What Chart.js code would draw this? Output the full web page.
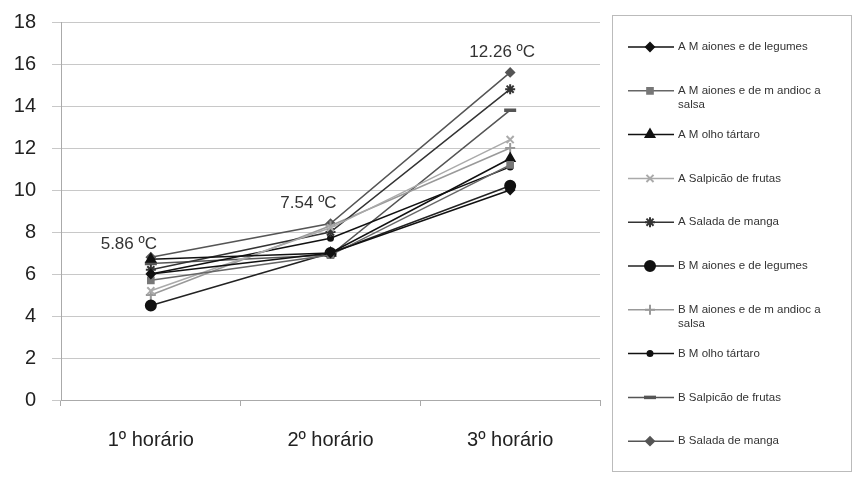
<!DOCTYPE html>
<html>
<head>
<meta charset="utf-8">
<script src="https://cdn.jsdelivr.net/npm/chart.js@4.4.0/dist/chart.umd.min.js"></script>
<style>
  html, body { margin: 0; padding: 0; background: #fff; }
  #wrap { width: 854px; height: 477px; position: relative; }
</style>
</head>
<body>
<div id="wrap"><canvas id="chart"></canvas></div>
<script>
// categories and values
const categories = ['1º horário', '2º horário', '3º horário'];

const seriesNames = [
    'A M aiones e de legumes',
    ['A M aiones e de m andioc a', 'salsa'],
    'A M olho tártaro',
    'A Salpicão de frutas',
    'A Salada de manga',
    'B M aiones e de legumes',
    ['B M aiones e de m andioc a', 'salsa'],
    'B M olho tártaro',
    'B Salpicão de frutas',
    'B Salada de manga'
];

const aMaioneseLegumes = [6.0, 7.0, 10.0];
const aMaioneseMandioca = [5.7, 6.9, 11.2];
const aMolhoTartaro = [6.7, 7.0, 11.5];
const aSalpicao = [5.2, 8.2, 12.4];
const aSaladaManga = [6.2, 8.0, 14.8];
const bMaioneseLegumes = [4.5, 7.0, 10.2];
const bMaioneseMandioca = [5.0, 8.3, 12.0];
const bMolhoTartaro = [6.0, 7.7, 11.1];
const bSalpicao = [6.5, 6.9, 13.8];
const bSaladaManga = [6.8, 8.4, 15.6];

const meanLabels = ['5.86 ºC', '7.54 ºC', '12.26 ºC'];
const yTicks = [0, 2, 4, 6, 8, 10, 12, 14, 16, 18];

const allValues = [aMaioneseLegumes, aMaioneseMandioca, aMolhoTartaro, aSalpicao, aSaladaManga,
    bMaioneseLegumes, bMaioneseMandioca, bMolhoTartaro, bSalpicao, bSaladaManga];

// styles for each series (grayscale like the original)
const styles = [
    { color: '#111', point: 'rectRot', radius: 4, fill: '#111' },
    { color: '#666', point: 'rect', radius: 4, fill: '#777' },
    { color: '#111', point: 'triangle', radius: 5, fill: '#111' },
    { color: '#aaa', point: 'crossRot', radius: 5, fill: '#aaa' },
    { color: '#333', point: 'star', radius: 5, fill: '#333' },
    { color: '#222', point: 'circle', radius: 5, fill: '#111' },
    { color: '#999', point: 'cross', radius: 5, fill: '#999' },
    { color: '#111', point: 'circle', radius: 2.5, fill: '#111' },
    { color: '#555', point: 'line', radius: 6, fill: '#555' },
    { color: '#555', point: 'rectRot', radius: 4, fill: '#555' }
];

const datasets = allValues.map((vals, i) => ({
    label: Array.isArray(seriesNames[i]) ? seriesNames[i].join(' ') : seriesNames[i],
    data: vals,
    borderColor: styles[i].color,
    backgroundColor: styles[i].fill,
    borderWidth: 1.5,
    pointStyle: styles[i].point,
    pointRadius: styles[i].radius,
    pointBorderColor: styles[i].fill,
    pointBackgroundColor: styles[i].fill,
    pointBorderWidth: styles[i].point === 'line' ? 3.5 : 2,
    tension: 0
}));

// mean temperature labels above each group of points
const meanLabelPlugin = {
    id: 'meanLabels',
    afterDatasetsDraw(chart) {
        const ctx = chart.ctx;
        const xs = chart.scales.x, ys = chart.scales.y;
        ctx.save();
        ctx.font = '17px "Liberation Sans", Arial, sans-serif';
        ctx.fillStyle = '#333';
        ctx.textAlign = 'center';
        ctx.textBaseline = 'bottom';
        meanLabels.forEach((txt, i) => {
            const top = Math.max(...allValues.map(v => v[i]));
            const x = xs.getPixelForValue(i) - (i < 2 ? 22 : 8);
            const y = ys.getPixelForValue(top) - (i === 0 ? 4 : 12);
            ctx.fillText(txt, x, y);
        });
        ctx.restore();
    }
};

// boxed legend on the right, with wrapped labels
const boxLegendPlugin = {
    id: 'boxLegend',
    afterDraw(chart) {
        const ctx = chart.ctx;
        const left = 612, top = 15, right = 851, bottom = 471;
        ctx.save();
        ctx.strokeStyle = '#bbb';
        ctx.lineWidth = 1;
        ctx.strokeRect(left + 0.5, top + 0.5, right - left, bottom - top);
        ctx.font = '11.5px "Liberation Sans", Arial, sans-serif';
        ctx.textBaseline = 'middle';
        ctx.textAlign = 'left';
        const step = 43.8;
        seriesNames.forEach((name, i) => {
            const y = top + 32 + step * i;
            const st = styles[i];
            ctx.strokeStyle = st.color;
            ctx.lineWidth = 1.5;
            ctx.beginPath();
            ctx.moveTo(628, y);
            ctx.lineTo(674, y);
            ctx.stroke();
            ctx.fillStyle = st.fill;
            ctx.strokeStyle = st.fill;
            ctx.lineWidth = st.point === 'line' ? 3.5 : 2;
            Chart.helpers.drawPoint(ctx, { pointStyle: st.point, radius: st.radius, rotation: 0, borderWidth: ctx.lineWidth }, 650, y);
            ctx.fillStyle = '#333';
            const lines = Array.isArray(name) ? name : [name];
            lines.forEach((ln, k) => ctx.fillText(ln, 678, y + k * 14));
        });
        ctx.restore();
    }
};

const ctx = document.getElementById('chart').getContext('2d');
const chart = new Chart(ctx, {
    type: 'line',
    data: { labels: categories, datasets: datasets },
    options: {
        responsive: true,
        maintainAspectRatio: false,
        animation: false,
        layout: { padding: { top: 22, right: 254, left: 0, bottom: 0 } },
        plugins: {
            legend: { display: false },
            tooltip: { enabled: false }
        },
        scales: {
            x: {
                offset: true,
                grid: { offset: true, drawOnChartArea: false, color: '#aaa', tickLength: 6 },
                border: { color: '#aaa' },
                ticks: {
                    color: '#222',
                    padding: 22,
                    font: { size: 20, family: '"Liberation Sans", Arial, sans-serif' }
                },
                afterFit(scale) { scale.height = 77; }
            },
            y: {
                min: 0,
                max: 18,
                afterBuildTicks(scale) { scale.ticks = yTicks.map(v => ({ value: v })); },
                grid: { color: '#c8c8c8', tickLength: 9 },
                border: { color: '#aaa' },
                ticks: {
                    color: '#222',
                    padding: 16,
                    font: { size: 20, family: '"Liberation Sans", Arial, sans-serif' }
                },
                afterFit(scale) {
                    scale.width = 61;
                    scale.paddingTop = 0;
                    scale.paddingBottom = 0;
                }
            }
        }
    },
    plugins: [meanLabelPlugin, boxLegendPlugin]
});
</script>
</body>
</html>
